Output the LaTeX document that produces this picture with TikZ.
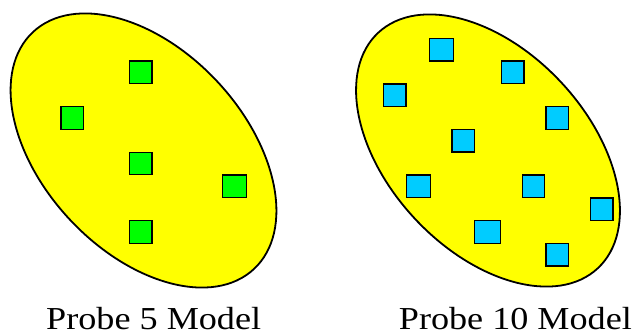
\documentclass[tikz,border=0pt]{standalone}
\usepackage{fontspec}
\setmainfont{Liberation Serif}
\definecolor{ellyellow}{RGB}{255,255,0}
\definecolor{sqgreen}{RGB}{0,255,0}
\definecolor{sqblue}{RGB}{0,204,255}
\begin{document}
\begin{tikzpicture}[x=1pt,y=-1pt,
  region/.style={draw=black,fill=ellyellow,line width=1.8pt},
  probe/.style={draw=black,line width=1.4pt,minimum width=22.5pt,minimum height=22.5pt,inner sep=0pt,outer sep=0pt},
  gprobe/.style={probe,fill=sqgreen},
  bprobe/.style={probe,fill=sqblue},
  caption/.style={anchor=base,inner sep=0pt,font=\fontsize{32}{36}\selectfont,xscale=1.13}]
\useasboundingbox (0,0) rectangle (635,336);
\fill[white] (0,0) rectangle (635,336);
% left ellipse
\draw[region,shift={(143.5,150.5)},rotate=-47] (0,0) ellipse [x radius=162,y radius=101];
% right ellipse
\draw[region,shift={(488,150.5)},rotate=-47] (0,0) ellipse [x radius=161,y radius=100];
% green probes
\node[gprobe] (g1) at (140.7,72.3) {};
\node[gprobe] (g2) at (72.3,118) {};
\node[gprobe] (g3) at (140.7,163.5) {};
\node[gprobe,minimum width=24pt] (g4) at (234.5,186.2) {};
\node[gprobe] (g5) at (140.7,232) {};
% blue probes
\node[bprobe,minimum width=24pt] (b1) at (441.5,49.7) {};
\node[bprobe] (b2) at (512.7,72.3) {};
\node[bprobe] (b3) at (394.7,95.2) {};
\node[bprobe] (b4) at (557.2,118) {};
\node[bprobe] (b5) at (463.3,140.7) {};
\node[bprobe,minimum width=24pt] (b6) at (418.5,186.2) {};
\node[bprobe] (b7) at (533.5,186.2) {};
\node[bprobe] (b8) at (601.8,209.3) {};
\node[bprobe,minimum width=26pt] (b9) at (487.7,232) {};
\node[bprobe] (b10) at (557.2,254.8) {};
% captions
\node[caption] (cap5) at (153.7,330) {Probe 5 Model};
\node[caption] (cap10) at (515.4,330) {Probe 10 Model};
\end{tikzpicture}
\end{document}
